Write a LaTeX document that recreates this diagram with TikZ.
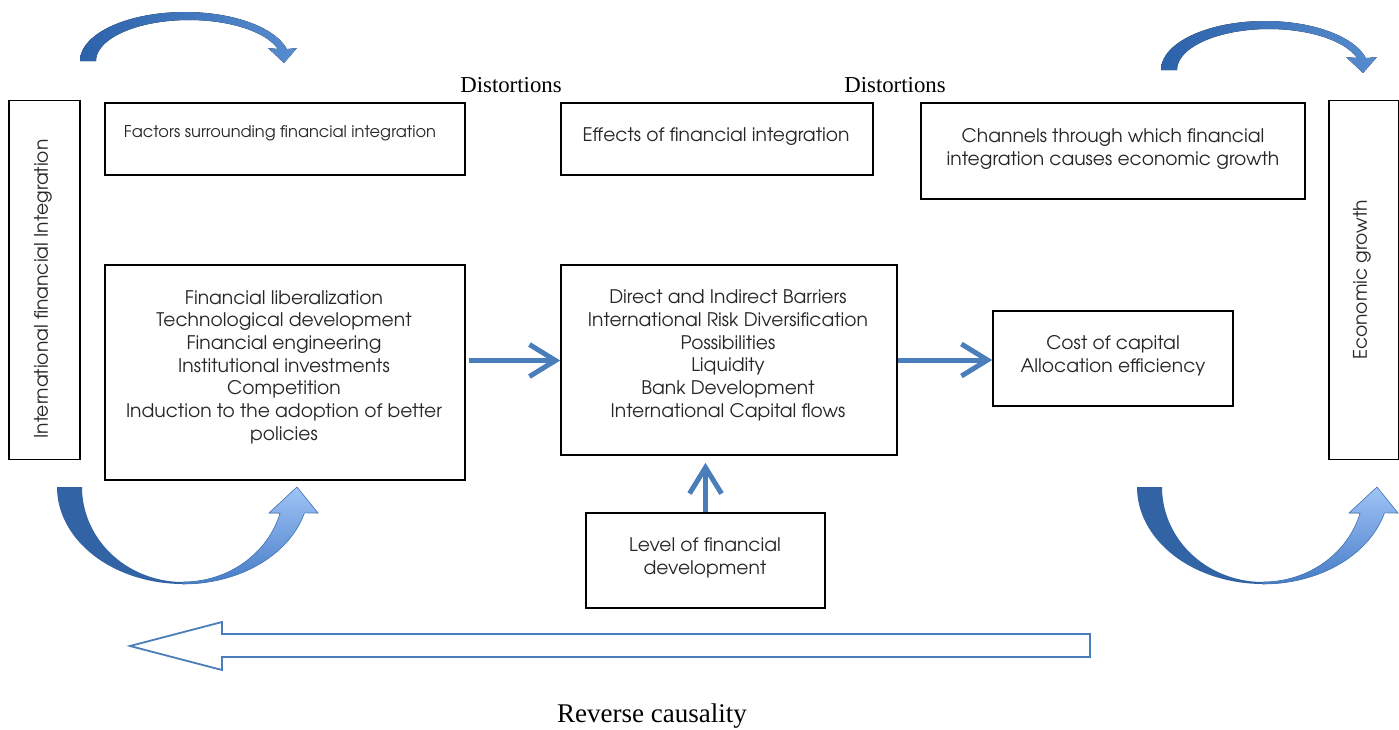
\documentclass[tikz,border=0pt]{standalone}
\usepackage{fontspec}
\setmainfont{TeX Gyre Adventor}
\newfontfamily\serifA{Liberation Serif}
\usetikzlibrary{arrows.meta}
\definecolor{ablue}{RGB}{74,126,187}
\definecolor{dkblue}{RGB}{50,100,165}
\definecolor{ltblue}{RGB}{160,196,247}
\definecolor{mdblue}{RGB}{70,124,198}
\definecolor{topdark}{RGB}{44,98,170}
\definecolor{toplight}{RGB}{88,140,208}
\definecolor{txtgray}{RGB}{38,38,38}
\tikzset{
  box/.style={draw=black, line width=1.6pt, inner sep=0pt},
  txt/.style={text=txtgray, align=center, inner sep=0pt, font=\fontsize{18.7}{22.7}\selectfont},
  smalltxt/.style={text=txtgray, inner sep=0pt, font=\fontsize{16.2}{20}\selectfont},
  dist/.style={inner sep=0pt, font=\serifA\fontsize{22.8}{25}\selectfont},
  conn/.style={draw=ablue, line width=5pt, -{Straight Barb[length=26pt,width=32pt]}},
  hollow/.style={draw=ablue, line width=1.8pt, fill=white, line join=miter},
  topband/.style={left color=topdark, right color=toplight},
  darkband/.style={fill=dkblue},
  lightband/.style={draw=ablue, line width=0.6pt, top color=ltblue, bottom color=mdblue}
}
\begin{document}
\begin{tikzpicture}[x=1pt,y=-1pt]
\useasboundingbox (0,0) rectangle (1399,729);

% boxes
\node[box, minimum width=71pt, minimum height=359pt] (L) at (44.5,280) {};
\node[box, minimum width=70pt, minimum height=359pt] (G) at (1364,280) {};
\node[box, minimum width=360pt, minimum height=72pt] (F) at (285,139) {};
\node[box, minimum width=312pt, minimum height=72pt] (E) at (717,139) {};
\node[box, minimum width=384pt, minimum height=96pt] (C) at (1113,151) {};
\node[box, minimum width=360pt, minimum height=215pt] (B1) at (285,372.5) {};
\node[box, minimum width=336pt, minimum height=190pt] (B2) at (729,360) {};
\node[box, minimum width=240pt, minimum height=95pt] (B3) at (1113,358.5) {};
\node[box, minimum width=239pt, minimum height=95pt] (B4) at (705.5,560.5) {};

% texts
\node[txt, rotate=90] (Lt) at (43,289) {International financial Integration};
\node[txt, rotate=90] (Gt) at (1362,280) {Economic growth};
\node[smalltxt] (Ft) at (280,133) {Factors surrounding financial integration};
\node[txt] (Et) at (716,137) {Effects of financial integration};
\node[txt] (Ct) at (1113,149) {Channels through which financial\\integration causes economic growth};
\node[txt] (B1t) at (284,367) {Financial liberalization\\Technological development\\Financial engineering\\Institutional investments\\Competition\\Induction to the adoption of better\\policies};
\node[txt] (B2t) at (728,355.5) {Direct and Indirect Barriers\\International Risk Diversification\\Possibilities\\Liquidity\\Bank Development\\International Capital flows};
\node[txt] (B3t) at (1113,356) {Cost of capital\\Allocation efficiency};
\node[txt] (B4t) at (705,558) {Level of financial\\development};

\node[dist] (D1) at (511,85) {Distortions};
\node[dist] (D2) at (895,85) {Distortions};
\node[dist, font=\serifA\fontsize{27}{30}\selectfont] (RC) at (652,716) {Reverse causality};

% straight connectors
\draw[conn] (B1.east) ++(3,-12) coordinate (s1) -- (s1 -| B2.west);
\draw[conn] (B2.east) coordinate (s2) -- (s2 -| B3.west);
\draw[conn, shorten >=7pt] (B4.north) -- (B4.north |- B2.south);

% reverse causality hollow arrow
\draw[hollow] (1090,634) -- (222,634) -- (222,622) -- (130,646) -- (222,670) -- (222,657) -- (1090,657) -- cycle;

% top curved arrows
\fill[topband] (80,61) -- plot[domain=180:346,samples=50] ({185+105*cos(\x)},{61+49*sin(\x)})
  -- (297,48) -- (284,63) -- (268,48)
  -- plot[domain=343:180,samples=50] ({189+93*cos(\x)},{61+41*sin(\x)}) -- cycle;
\fill[topband] (1161,70) -- plot[domain=180:346,samples=50] ({1265+104*cos(\x)},{70+49*sin(\x)})
  -- (1377,57) -- (1363,73) -- (1346,57)
  -- plot[domain=343:180,samples=50] ({1269+92*cos(\x)},{70+41*sin(\x)}) -- cycle;

% bottom curved arrows
\foreach \cx in {183,1263}{
  \fill[darkband] plot[domain=180:90,samples=50] ({\cx+126*cos(\x)},{487+97*sin(\x)})
    -- plot[domain=90:180,samples=50] ({\cx+101*cos(\x)},{487+95*sin(\x)}) -- cycle;
  \filldraw[lightband] plot[domain=90:15.5,samples=50] ({\cx+126*cos(\x)},{487+97*sin(\x)})
    -- ({\cx+135},513) -- ({\cx+114},487) -- ({\cx+86},513)
    -- plot[domain=15.9:90,samples=50] ({\cx+101*cos(\x)},{487+95*sin(\x)}) -- cycle;
}
\end{tikzpicture}
\end{document}
